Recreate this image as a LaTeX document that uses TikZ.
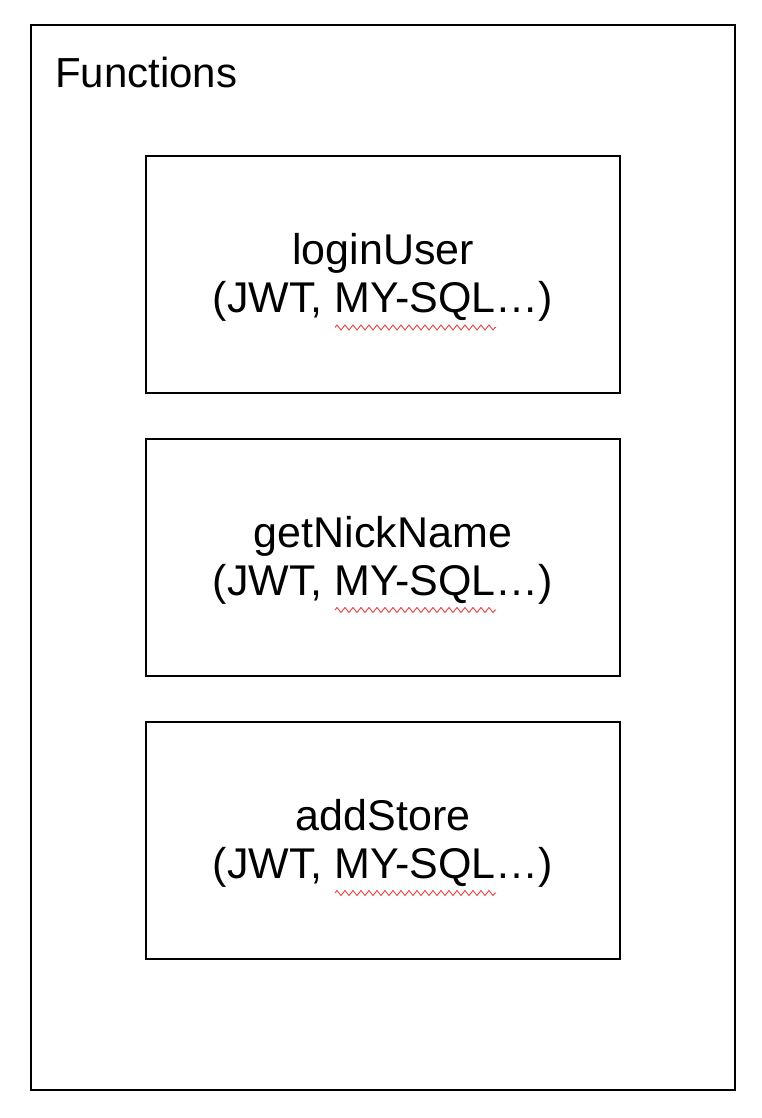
\documentclass[tikz,border=0pt]{standalone}
\usepackage{fontspec}
\setmainfont{Liberation Sans}
\usetikzlibrary{calc,decorations.pathmorphing}
\definecolor{squig}{HTML}{E0504A}
\begin{document}
\begin{tikzpicture}[x=1pt,y=-1pt,
  frame/.style={draw=black,line width=2pt},
  fnbox/.style={draw=black,line width=2pt,minimum width=474pt,minimum height=237pt,
    inner sep=0pt},
  fntext/.style={align=center,font=\fontsize{43}{48}\selectfont,inner sep=0pt},
  squiggly/.style={draw=squig,line width=1pt,decorate,
    decoration={zigzag,segment length=8pt,amplitude=2.5pt}}]
\useasboundingbox (0,0) rectangle (762,1118);
\node[frame,minimum width=704pt,minimum height=1065pt,inner sep=0pt] (outer) at (383,557.5) {};
\node[anchor=base west,font=\fontsize{42}{48}\selectfont,inner sep=0pt] (title) at (55,88) {Functions};
\node[fnbox] (b1) at (383,274.5) {};
\node[fnbox] (b2) at (383,557) {};
\node[fnbox] (b3) at (383,840) {};
\node[fntext] (t1) at ($(b1.center)+(0,3)$) {loginUser\\(JWT, MY-SQL\ldots)};
\node[fntext] (t2) at ($(b2.center)+(0,3)$) {getNickName\\(JWT, MY-SQL\ldots)};
\node[fntext] (t3) at ($(b3.center)+(0,3)$) {addStore\\(JWT, MY-SQL\ldots)};
\foreach \b in {b1,b2,b3}{
  \draw[squiggly] ($(\b.center)+(-48,53)$) -- ($(\b.center)+(113,53)$);
}
\end{tikzpicture}
\end{document}
